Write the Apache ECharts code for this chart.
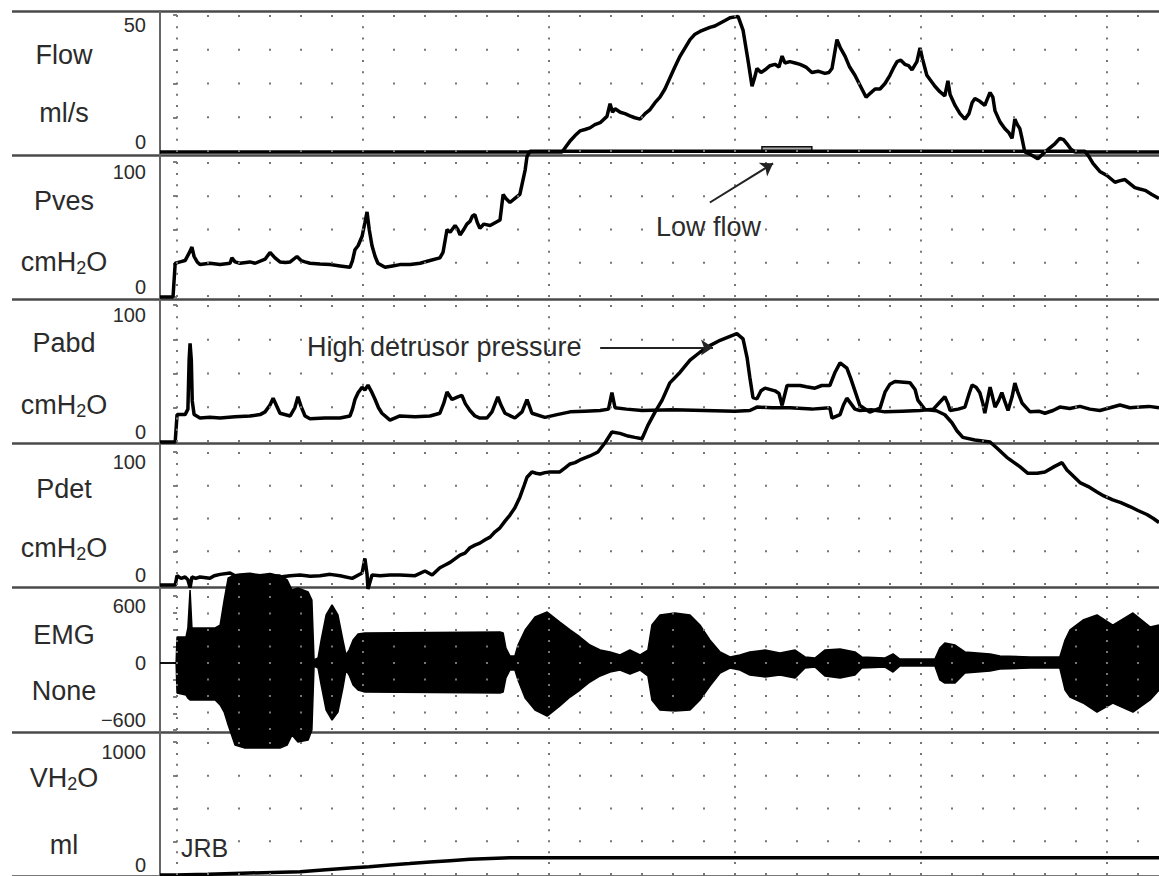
<!DOCTYPE html>
<html>
<head>
<meta charset="utf-8">
<script src="https://cdn.jsdelivr.net/npm/echarts@6/dist/echarts.min.js"></script>
<style>
html,body{margin:0;padding:0;background:#fff;}
#chart{width:1159px;height:876px;}
</style>
</head>
<body>
<div id="chart"></div>
<script>
// ---------------- DATA (time in s, values in channel units) ----------------
const T_MIN = -5.5, T_MAX = 316.8;
const majorTimes = [0, 60, 120, 180, 240, 300];
const minorStep = 10;

const channelNames = ['Flow', 'Pves', 'Pabd', 'Pdet', 'EMG', 'VH2O'];
const channelUnits = ['ml/s', 'cmH2O', 'cmH2O', 'cmH2O', 'None', 'ml'];

const flowTicks = ['0', '50'];
const pvesTicks = ['0', '100'];
const pabdTicks = ['0', '100'];
const pdetTicks = ['0', '100'];
const emgTicks = ['\u2212600', '0', '600'];
const volTicks = ['0', '1000'];

const flowData = [[-5.5,0],[124.2,0],[125.5,2],[126.8,4],[128.4,6],[130,7.7],[131.6,8.2],[133.2,8.8],[134.8,10],[136.5,10.7],[138.7,13],[139.7,17.6],[140.5,14.5],[141.3,15.8],[143,14.5],[144.5,14],[146.1,13.2],[147.7,12.5],[149.4,12],[151,14],[152.6,15.5],[154.2,18],[155.8,20],[157.4,23],[159,27],[160.6,31],[162.3,35],[163.9,38],[165.5,41],[167.1,43],[168.7,44],[171.9,45.5],[173.5,46],[176.8,48],[178.4,49],[181,49.5],[182.6,44.5],[184.2,33.5],[185.5,24],[186.3,27],[187.1,30.5],[188.4,29],[189.7,30],[191.3,31.5],[192.9,32],[194.2,31],[195.2,35],[196.1,32.5],[197.7,33],[199.4,32.5],[201,32],[202.9,31],[204.8,29],[206.8,29.5],[209,28.7],[210.3,29],[211.3,30.5],[212.9,41],[214,38],[215.5,35],[217,31],[218.7,28],[220.5,24],[222.3,20],[223.7,21.5],[225.2,23],[226.8,23],[228.4,25],[230,28],[231.3,31],[232.3,33],[233.5,33.5],[234.8,32],[236,31.5],[237.1,30],[238.7,33],[239.7,38],[240.5,34],[241.9,28],[243.2,26],[244.5,24],[246.1,22],[247.7,20.5],[248.7,26],[249.4,21],[251,17],[252.6,14],[254.2,12],[255.5,14],[256.5,18],[257.4,19.5],[259,18.5],[260.6,17],[261.3,19],[262.3,21.7],[263.2,20],[263.9,15],[265.5,11],[267.1,8.5],[268.4,7],[269.4,5],[270.3,12],[271.1,10],[271.9,8.5],[272.6,5],[273.5,0],[275.5,-1],[277.7,-2.5],[280,0],[281.6,1.5],[283.2,3],[284.8,5],[286,4.5],[287.1,3],[288.4,1],[289.7,0],[316.8,0]];

const pvesData = [[-5.5,0],[-1.3,0],[-0.6,25],[1.0,26],[2.6,27],[4.0,33],[4.8,37],[5.5,30],[6.5,26],[7.4,24],[10.6,25],[13.9,24],[17.1,25],[17.7,29],[18.7,26],[20.3,25],[23.5,26],[25.2,25],[28.4,28],[30,33],[31.6,29],[33.2,26],[35,25.5],[36.5,26],[38.7,30],[40,27],[41.3,26],[42.9,25],[46.1,24.5],[49.4,24],[52.6,23],[55.8,22],[56.6,27],[57.4,35],[58.4,38],[59.7,45],[60.6,55],[61.3,63],[62,50],[62.9,38],[63.9,30],[64.8,25],[67.1,22],[69.5,23],[71.9,24],[75.2,24],[78.4,25],[81.6,27],[84.8,29],[85.8,33],[86.5,42],[87.1,50],[88.1,48],[89.7,53],[90.6,50],[91.3,46],[92.5,50],[93.5,54],[94.5,56],[95.3,60],[96.1,61],[96.9,55],[97.7,51],[99,54],[101,53],[102.6,55],[104.2,57],[105.2,76],[106.1,73],[107.4,70],[109,73],[110.6,76],[112.3,94],[112.9,104],[113.9,108],[292.9,108],[294.2,104],[295.5,99],[297.7,93],[300,90],[302.6,85],[304,86],[305.8,87],[307.4,84],[309,81],[310.6,80],[312.3,79],[314.5,76],[316.8,73]];

const pabdData = [[-5.5,0],[-0.6,0],[0,20],[2.6,20],[3.5,24],[3.9,60],[4.2,72],[4.6,60],[4.9,30],[5.5,20],[7.4,17.5],[10.6,18],[13.9,17.5],[18.7,18.5],[23.5,19],[26.8,20],[28.4,22],[30,27],[31,32],[32,27],[33.2,21],[36.5,19],[38,25],[39,33],[40,26],[41.3,19],[42.9,17],[47.7,17.5],[52.6,17.5],[55.8,19],[56.6,24],[57.4,31],[58.4,36],[59.7,40],[60.6,38],[61.6,41.5],[62.9,36],[63.9,31],[65,25],[66.1,21],[68.7,16],[71.9,19],[76.8,18.5],[81.6,19],[84.8,21],[86,28],[87.1,36.5],[88.1,33],[88.7,31],[90.6,33],[91.9,34],[93,28],[94.5,23],[96.1,19],[97.7,17.5],[100,17.5],[101.6,22],[103.5,33],[104.5,27],[105.8,21],[109,17.5],[111.3,22],[112.9,31],[113.7,26],[114.5,21],[118.7,18],[122.6,20],[126.8,22],[131.6,22.5],[136.5,23],[139.2,24],[140.3,36],[141.3,25],[145,24],[150,23],[160,23.5],[170,23],[180,22.5],[184.8,23],[187.1,25.5],[192,25],[197.7,25],[204.8,24],[210.6,25],[211.3,17.5],[213.9,20],[215,27],[216.1,32],[217.4,28],[218.7,24],[220.3,23],[224,23.5],[228.4,22],[234,22.5],[239.7,23],[244,24],[247.7,33],[248.7,28],[249.4,23],[252,24],[254.2,25.5],[255.5,35],[256.5,41.6],[257.8,40],[259,36],[260,28],[260.6,21],[261.5,31],[262.3,40],[263.1,33],[263.9,25.5],[265,30],[266.1,36],[267,30],[268.1,23],[269.4,33],[270.3,43],[271.3,36],[272.6,28.5],[275.2,22],[278,22.5],[280,21],[282.6,23],[284.8,25.5],[288,24.5],[291.3,26],[294.5,24],[297.7,23],[301,25],[304.2,27],[307.4,25],[310.6,25.5],[313.6,26],[316.8,25]];

const pdetData = [[-5.5,0],[-0.6,0],[0,7],[1.3,5],[2.6,6],[3.5,4],[4.2,-2],[4.8,6],[6,5],[7.4,6],[10.6,5],[12,7],[13.9,8],[17.1,9],[18.7,7],[20.3,7.5],[23.5,8],[26.8,7],[30,8],[33.2,6],[36.5,7],[39.7,7.5],[43,6.5],[46.1,7],[49.4,8],[52.6,7],[56.5,5],[59.7,9],[60.6,20],[61.3,8],[61.6,-3],[62.9,7.5],[65.5,7],[68.7,7.5],[71.9,7.5],[76.8,7],[80,10.5],[82.3,7.5],[84.8,13],[86.5,15],[88.1,17],[91.3,22.5],[92.9,24],[94.5,28],[96.1,30],[97.7,31.5],[99.4,34],[101,36],[102.6,40],[104.2,43],[105.8,48],[107.4,52.6],[109,58],[110.6,66],[112,75],[112.9,81],[114.5,85],[115.8,84],[117.1,83.5],[118.7,84.5],[120.3,85],[123.5,85],[125.2,88],[126.8,91],[128.4,92],[130,94],[133.2,97],[135.8,100],[138.1,107],[140.3,115],[142.9,114],[145.5,112],[147.7,111],[150,110],[151.9,120],[154.2,130],[156.5,139],[159,152],[162.3,160],[165.5,169],[168.7,175],[171.9,180],[175.2,184],[178.4,187],[180.6,189],[182.6,185],[183.9,171],[184.8,156],[185.8,141],[187.1,140],[188.4,146],[189.7,148],[192.9,146],[194.2,144],[195.2,135],[196.8,150],[201,150],[203,149],[205.8,148],[208,150],[210.6,150],[212.3,160],[213.9,167],[216.1,163],[217.4,155],[218.7,146],[220.3,135],[223.5,130],[226.8,133],[228.4,145],[230,151],[231.6,153],[236.5,152],[238.1,147],[239,139],[241.3,132],[245,131],[247.7,128],[250,122],[251.6,116],[253.5,111],[257.4,109],[262.3,107.5],[264.5,103],[267.7,96],[271.9,89],[274.5,84],[277.5,84],[280,85],[283,89],[285.5,92],[287.1,86.5],[291.3,77],[294,74],[296.8,70],[299,67],[301.9,64],[304.5,62],[307.4,59],[310,56],[312.9,53],[315,50],[316.8,47]];

// EMG envelope: [time, upper, lower]
const emgData = [[-5.5,0,0],[-0.3,0,0],[0,233,-269],[2.9,233,-287],[3.5,314,-314],[4.2,654,-331],[4.8,314,-331],[12.3,314,-331],[13.9,340,-376],[15.2,564,-439],[16.5,762,-556],[18.7,788,-735],[21.9,788,-762],[33.2,788,-762],[35.5,744,-735],[37.1,654,-645],[39,672,-708],[42.3,636,-690],[43.5,564,-600],[44.2,27,-27],[45.5,45,-45],[46.5,206,-197],[48.1,430,-421],[50,520,-511],[51.9,430,-439],[53.5,206,-224],[54.5,72,-63],[55.5,116,-108],[56.8,206,-197],[58.4,260,-242],[60.6,269,-260],[104.2,278,-269],[105.2,269,-260],[106.1,134,-134],[107.4,63,-63],[109,63,-63],[110,161,-152],[112.3,296,-314],[115.5,412,-421],[119.4,457,-475],[123.5,367,-385],[126.8,296,-305],[130,233,-242],[133.2,161,-170],[136.5,116,-116],[139.7,99,-81],[142.9,72,-63],[146.1,116,-99],[149.4,72,-63],[151.9,116,-116],[153.2,340,-331],[155.8,430,-421],[160.6,448,-430],[165.5,430,-421],[168.7,340,-331],[171.9,206,-206],[175.2,99,-90],[178.4,54,-45],[181.6,72,-63],[184.8,99,-108],[189.7,116,-125],[194.5,90,-108],[199.4,116,-134],[202.6,54,-45],[205.8,45,-36],[209,116,-116],[213.9,125,-134],[218.7,99,-108],[220.9,54,-45],[228.4,45,-36],[231,81,-81],[233.2,36,-27],[244.5,36,-27],[246.1,134,-152],[247.7,179,-179],[251,161,-179],[254.2,99,-90],[262.3,81,-72],[265.5,63,-54],[275.2,54,-45],[284.8,54,-45],[286.5,206,-242],[288.1,296,-305],[292.3,385,-358],[296.8,430,-439],[301.9,340,-358],[308.4,448,-439],[313.9,323,-331],[316.8,340,-242]];

const volData = [[-5.5,0],[-0.6,0],[10,5],[23.5,15],[39.7,25],[48,40],[55.8,53],[62,62],[68.7,75],[75,86],[81.6,98],[88,108],[94.5,118],[101,124],[107.4,130],[316.8,130]];

const lowFlowSpan = [188.7, 204.8];
const highDetArrow = [[136.5, 69], [172.9, 69]];   // Pabd panel coords
const lowFlowArrow = [[171.9, 70], [192.3, 99]];   // Pves panel coords

// ---------------- LAYOUT / STYLE ----------------
const FONT = '"Liberation Sans", Arial, sans-serif';
const TXT = '#2b2b2b';
const DOT = '#767676';
const panels = [
  {top: 15,  height: 137, min: 0,    max: 50,   interval: 12.5, ticks: flowTicks},
  {top: 162, height: 135, min: 0,    max: 100,  interval: 25,   ticks: pvesTicks},
  {top: 305, height: 137, min: 0,    max: 100,  interval: 25,   ticks: pabdTicks},
  {top: 452, height: 133, min: 0,    max: 100,  interval: 25,   ticks: pdetTicks},
  {top: 596, height: 134, min: -600, max: 600,  interval: 150,  ticks: emgTicks},
  {top: 742, height: 133, min: 0,    max: 1000, interval: 250,  ticks: volTicks}
];
const labelY = [[55, 113], [201, 262], [343, 405], [489, 548], [635, 691], [778, 845]];

// minor grid columns (every 10 s, excluding the major ones)
const minorTimes = [];
for (let t = minorStep; t < T_MAX; t += minorStep) {
  if (majorTimes.indexOf(t) < 0) minorTimes.push(t);
}

const grids = [], xAxes = [], yAxes = [], series = [];
panels.forEach((p, i) => {
  grids.push({left: 160, right: 0, top: p.top, height: p.height});
  xAxes.push({gridIndex: i, type: 'value', min: T_MIN, max: T_MAX, show: false});
  const tickVals = [p.min, p.max];
  if (p.min < 0) tickVals.splice(1, 0, 0);
  const labelMap = {};
  tickVals.forEach((v, k) => { labelMap[v] = p.ticks[k]; });
  const nRows = Math.round((p.max - p.min) / p.interval);
  yAxes.push({
    gridIndex: i, type: 'value', min: p.min, max: p.max, interval: p.interval,
    axisLine: {show: false},
    axisTick: {show: true, length: 4, lineStyle: {color: '#555', width: 1.5}},
    axisLabel: {
      show: true, margin: 14, color: TXT, fontSize: 20, fontFamily: FONT,
      showMinLabel: true, showMaxLabel: true,
      verticalAlignMinLabel: 'bottom', verticalAlignMaxLabel: 'top',
      formatter: v => (labelMap[v] !== undefined ? labelMap[v] : '')
    },
    splitLine: {show: false}
  });
  // minor columns: a dot at each tick level
  const rowGap = (p.height - 2) / nRows;
  series.push({
    type: 'line', xAxisIndex: i, yAxisIndex: i, data: [], silent: true, z: 1,
    markLine: {
      silent: true, symbol: ['none', 'none'], label: {show: false}, animation: false,
      lineStyle: {color: DOT, width: 2, type: [2, rowGap - 2]},
      emphasis: {disabled: true},
      data: minorTimes.map(t => ({xAxis: t}))
    }
  });
  // major dotted vertical grid lines
  const denseGap = (p.height - 2) / 12;
  series.push({
    type: 'line', xAxisIndex: i, yAxisIndex: i, data: [], silent: true, z: 1,
    markLine: {
      silent: true, symbol: ['none', 'none'], label: {show: false}, animation: false,
      lineStyle: {color: DOT, width: 2, type: [2, denseGap - 2]},
      emphasis: {disabled: true},
      data: majorTimes.map(t => ({xAxis: t}))
    }
  });
});

// separator grid (index 6) and frame grid (index 7)
grids.push({left: 12, right: 0, top: 11, height: 867});
xAxes.push({gridIndex: 6, type: 'value', min: 0, max: 1, show: false});
yAxes.push({gridIndex: 6, type: 'value', min: 0, max: 6, interval: 1,
  axisLine: {show: false}, axisTick: {show: false}, axisLabel: {show: false},
  splitLine: {show: true, lineStyle: {color: '#4a4a4a', width: 2.5, type: 'solid'}}});
grids.push({left: 160, right: 0, top: 11, bottom: 0});
xAxes.push({gridIndex: 7, type: 'value', min: 0, max: 1, show: false});
yAxes.push({gridIndex: 7, type: 'value', min: 0, max: 1, position: 'left',
  axisLine: {show: true, onZero: false, lineStyle: {color: '#666', width: 2}},
  axisTick: {show: false}, axisLabel: {show: false}, splitLine: {show: false}});

function trace(idx, data, extra) {
  return Object.assign({
    type: 'line', xAxisIndex: idx, yAxisIndex: idx, data: data,
    showSymbol: false, symbol: 'none', clip: false, z: 3, silent: true,
    lineStyle: {color: '#000', width: 3.5}, animation: false
  }, extra || {});
}

series.push(trace(0, flowData));
series.push(trace(1, pvesData));
series.push(trace(2, pabdData));
series.push(trace(3, pdetData));
series.push(trace(4, emgData.map(d => [d[0], d[1]]), {lineStyle: {color: '#000', width: 1.5}, areaStyle: {color: '#000', opacity: 1}}));
series.push(trace(4, emgData.map(d => [d[0], d[2]]), {lineStyle: {color: '#000', width: 1.5}, areaStyle: {color: '#000', opacity: 1}}));
series.push(trace(5, volData));

// Low flow marker bar
series.push({
  type: 'line', xAxisIndex: 0, yAxisIndex: 0, data: [], z: 6, silent: true, clip: false,
  markArea: {silent: true, itemStyle: {color: '#a8a8a8', borderColor: '#111', borderWidth: 1.5},
    data: [[{xAxis: lowFlowSpan[0], yAxis: 0}, {xAxis: lowFlowSpan[1], yAxis: 1.9}]]}
});
// arrows
function arrow(idx, pts) {
  return {
    type: 'line', xAxisIndex: idx, yAxisIndex: idx, data: [], z: 6, silent: true,
    markLine: {silent: true, symbol: ['none', 'arrow'], symbolSize: 12, animation: false,
      label: {show: false}, lineStyle: {color: '#222', width: 2, type: 'solid'},
      data: [[{coord: pts[0]}, {coord: pts[1]}]]}
  };
}
series.push(arrow(2, highDetArrow));
series.push(arrow(1, lowFlowArrow));

// texts
function richify(s) { return s.replace('H2O', 'H{sub|2}O'); }
const graphics = [];
const subRich = {sub: {fontSize: 18, fontFamily: FONT, fill: TXT, padding: [12, 0, 0, 0]}};
channelNames.forEach((n, i) => {
  [n, channelUnits[i]].forEach((t, k) => {
    graphics.push({type: 'text', x: 64, y: labelY[i][k], silent: true,
      style: {text: richify(t), rich: subRich, fill: TXT, font: '27px ' + FONT,
        align: 'center', verticalAlign: 'middle', textAlign: 'center', textVerticalAlign: 'middle'}});
  });
});
graphics.push({type: 'text', x: 307, y: 347, silent: true,
  style: {text: 'High detrusor pressure', fill: TXT, font: '27px ' + FONT, align: 'left', verticalAlign: 'middle'}});
graphics.push({type: 'text', x: 656, y: 227, silent: true,
  style: {text: 'Low flow', fill: TXT, font: '27px ' + FONT, align: 'left', verticalAlign: 'middle'}});
graphics.push({type: 'text', x: 181, y: 848, silent: true,
  style: {text: 'JRB', fill: TXT, font: '25px ' + FONT, align: 'left', verticalAlign: 'middle'}});

const chart = echarts.init(document.getElementById('chart'), null, {renderer: 'svg'});
chart.setOption({
  animation: false,
  backgroundColor: '#fff',
  grid: grids,
  xAxis: xAxes,
  yAxis: yAxes,
  series: series,
  graphic: graphics
});
</script>
</body>
</html>
